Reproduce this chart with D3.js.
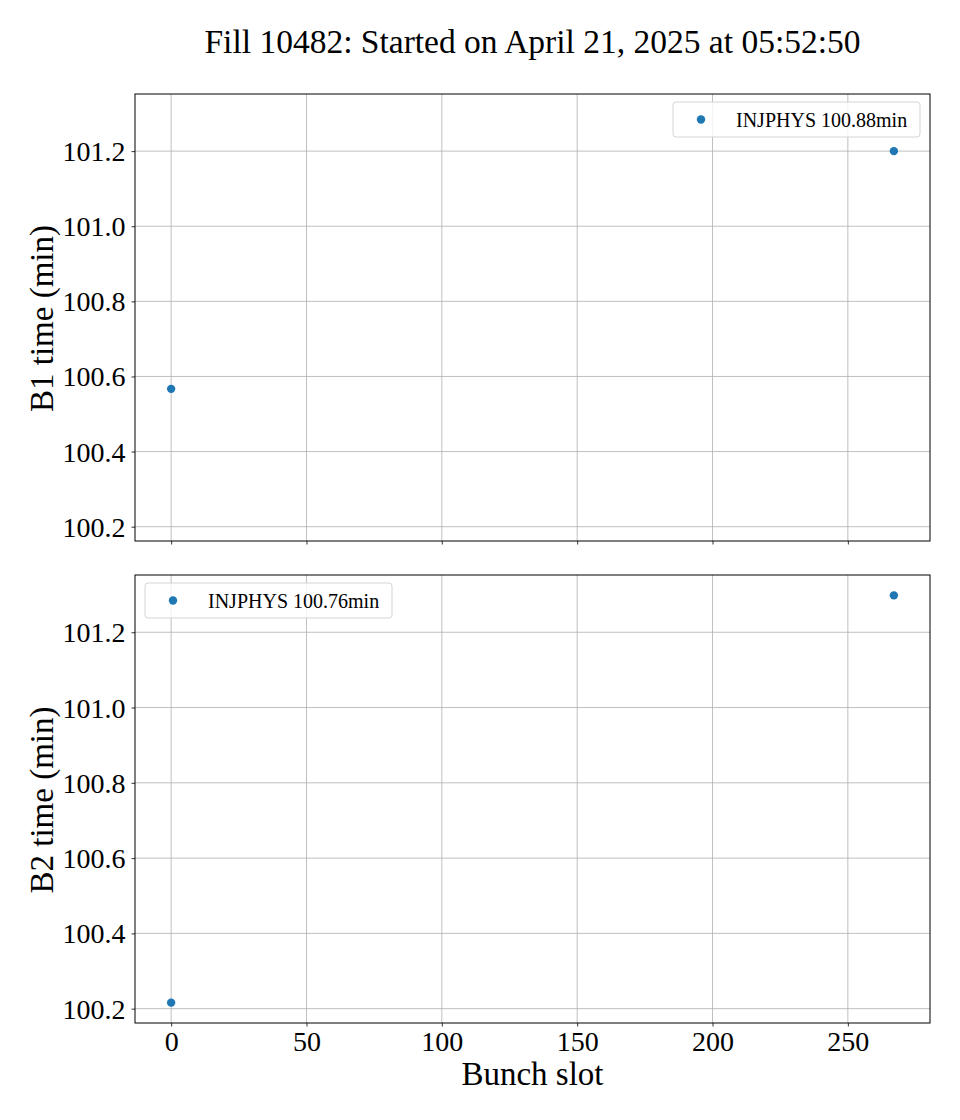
<!DOCTYPE html>
<html>
<head>
<meta charset="utf-8">
<script src="https://cdn.jsdelivr.net/npm/d3@7"></script>
<style>
  html, body { margin: 0; padding: 0; background: #fff; }
  svg { display: block; }
  text { font-family: "Liberation Serif", "Times New Roman", serif; fill: #000; }
</style>
</head>
<body>
<svg id="chart" width="960" height="1120"></svg>
<script>
const title = "Fill 10482: Started on April 21, 2025 at 05:52:50";
const xLabel = "Bunch slot";
const panelLabels = ["B1 time (min)", "B2 time (min)"];
const legendLabels = ["INJPHYS 100.88min", "INJPHYS 100.76min"];
const b1Slots = [0, 267];
const b1Times = [100.567, 101.2];
const b2Slots = [0, 267];
const b2Times = [100.216, 101.298];
const xTicks = [0, 50, 100, 150, 200, 250];
const yTicks = [100.2, 100.4, 100.6, 100.8, 101.0, 101.2];

const svg = d3.select("#chart");
const W = 960, H = 1120;
const left = 135, right = 930;
const FONT = '"Liberation Serif", "Times New Roman", serif';
const panels = [
  { top: 94, bottom: 541, xs: b1Slots, ys: b1Times, ylabel: panelLabels[0], legend: legendLabels[0], legendPos: "right", showX: false },
  { top: 575, bottom: 1023, xs: b2Slots, ys: b2Times, ylabel: panelLabels[1], legend: legendLabels[1], legendPos: "left", showX: true }
];

// shared axes with 5% margins
const allX = b1Slots.concat(b2Slots);
const allY = b1Times.concat(b2Times);
const xmin = d3.min(allX), xmax = d3.max(allX);
const ymin = d3.min(allY), ymax = d3.max(allY);
const xm = (xmax - xmin) * 0.05, ym = (ymax - ymin) * 0.05;
const x = d3.scaleLinear().domain([xmin - xm, xmax + xm]).range([left, right]);

svg.append("rect").attr("width", W).attr("height", H).attr("fill", "#fff");

svg.append("text")
  .attr("x", (left + right) / 2).attr("y", 53)
  .attr("text-anchor", "middle")
  .style("font-size", "33.5px")
  .text(title);

panels.forEach(p => {
  const y = d3.scaleLinear().domain([ymin - ym, ymax + ym]).range([p.bottom, p.top]);
  const g = svg.append("g");

  // grid
  g.append("g").selectAll("line").data(xTicks).join("line")
    .attr("x1", d => x(d)).attr("x2", d => x(d))
    .attr("y1", p.top).attr("y2", p.bottom)
    .attr("stroke", "#b0b0b0").attr("stroke-width", 0.8);
  g.append("g").selectAll("line").data(yTicks).join("line")
    .attr("x1", left).attr("x2", right)
    .attr("y1", d => y(d)).attr("y2", d => y(d))
    .attr("stroke", "#b0b0b0").attr("stroke-width", 0.8);

  // axes
  const xAxis = d3.axisBottom(x).tickValues(xTicks).tickSize(3.5).tickPadding(5)
    .tickFormat(p.showX ? d3.format("d") : "");
  const gx = g.append("g").attr("transform", `translate(0,${p.bottom})`).call(xAxis);
  gx.attr("font-family", FONT);
  gx.select(".domain").remove();
  gx.selectAll("line").attr("stroke", "#000").attr("stroke-width", 0.8);
  gx.selectAll("text").style("font-size", "28px").style("font-family", FONT);

  const yAxis = d3.axisLeft(y).tickValues(yTicks).tickSize(3.5).tickPadding(6)
    .tickFormat(d3.format(".1f"));
  const gy = g.append("g").attr("transform", `translate(${left},0)`).call(yAxis);
  gy.attr("font-family", FONT);
  gy.select(".domain").remove();
  gy.selectAll("line").attr("stroke", "#000").attr("stroke-width", 0.8);
  gy.selectAll("text").style("font-size", "28px").style("font-family", FONT)
    .attr("dy", "0.34em");

  // frame
  g.append("rect").attr("x", left).attr("y", p.top)
    .attr("width", right - left).attr("height", p.bottom - p.top)
    .attr("fill", "none").attr("stroke", "#000").attr("stroke-width", 1);

  // points
  g.append("g").selectAll("circle").data(p.xs.map((d, i) => [d, p.ys[i]])).join("circle")
    .attr("cx", d => x(d[0])).attr("cy", d => y(d[1]))
    .attr("r", 4.2).attr("fill", "#1f77b4");

  // y label
  g.append("text")
    .attr("transform", `translate(53,${(p.top + p.bottom) / 2 + 1}) rotate(-90)`)
    .attr("text-anchor", "middle")
    .style("font-size", "33px")
    .text(p.ylabel);

  // legend
  const lw = 247, lh = 35;
  const lx = p.legendPos === "right" ? right - 10 - lw : left + 10;
  const ly = p.top + 8;
  const lg = g.append("g").attr("transform", `translate(${lx},${ly})`);
  lg.append("rect").attr("width", lw).attr("height", lh).attr("rx", 3)
    .attr("fill", "#fff").attr("fill-opacity", 0.8)
    .attr("stroke", "#d0d0d0").attr("stroke-width", 0.9);
  lg.append("circle").attr("cx", 28).attr("cy", lh / 2).attr("r", 4.2).attr("fill", "#1f77b4");
  lg.append("text").attr("x", 63).attr("y", lh / 2).attr("dy", "0.35em")
    .style("font-size", "20px").text(p.legend);
});

svg.append("text")
  .attr("x", (left + right) / 2).attr("y", 1085)
  .attr("text-anchor", "middle")
  .style("font-size", "33px")
  .text(xLabel);
</script>
</body>
</html>
